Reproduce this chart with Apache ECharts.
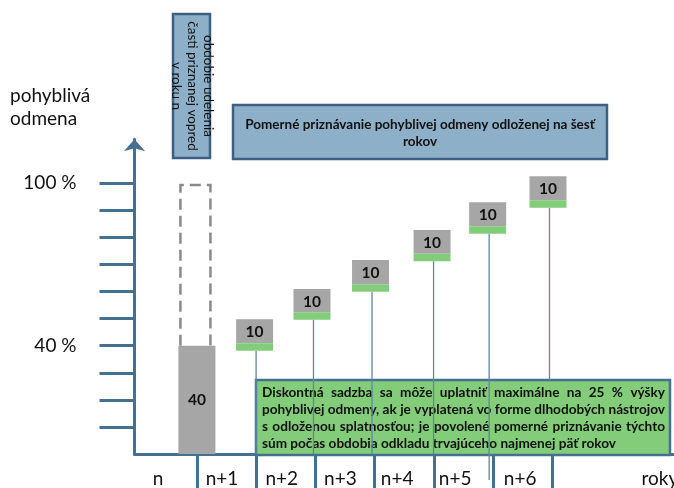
<!DOCTYPE html>
<html>
<head>
<meta charset="utf-8">
<script src="https://cdn.jsdelivr.net/npm/echarts@6/dist/echarts.min.js"></script>
<style>
html, body { margin: 0; padding: 0; background: #fff; }
#chart { width: 674px; height: 488px; }
</style>
</head>
<body>
<div id="chart"></div>
<script>
// values (x in years from start of n, y in %)
const yearLabels = ['n', 'n+1', 'n+2', 'n+3', 'n+4', 'n+5', 'n+6', 'roky'];
const yearLabelPos = [0.34, 1.42, 2.43, 3.42, 4.38, 5.36, 6.46, 8.82];
const yearBounds = [1, 2, 3, 4, 5, 6, 7];
const yTicks = [10, 20, 30, 40, 50, 60, 70, 80, 90, 100];
const yLabels = [40, 100];

const upfrontX = 0.995;
const upfrontValue = 40;
const upfrontOutlineX = 0.97;
const upfrontOutlineTop = 99.3;

const flagX = [1.97, 2.94, 3.93, 4.97, 5.91, 6.93];
const flagLow = [38.1, 49.6, 59.9, 71.2, 81.3, 90.9];
const flagHigh = [49.8, 60.9, 71.6, 82.7, 93.0, 102.6];
const flagValue = [10, 10, 10, 10, 10, 10];
const stemEnd = [0, 0, 0, 0, -9.6, 27.3];

const yTitle = 'pohyblivá\nodmena';
const upfrontNote = 'obdobie udelenia\nčasti priznanej vopred\nv roku n';
const deferNote = 'Pomerné priznávanie pohyblivej odmeny odloženej na šesť\nrokov';
const discountNote = [
  'Diskontná sadzba sa môže uplatniť maximálne na 25 % výšky',
  'pohyblivej odmeny, ak je vyplatená vo forme dlhodobých nástrojov',
  's odloženou splatnosťou; je povolené pomerné priznávanie týchto',
  'súm počas obdobia odkladu trvajúceho najmenej päť rokov'
];

const AXIS = '#46708f';
const BOX_BLUE = '#8db0c8';
const BOX_EDGE = '#3e6080';
const GRAY = '#a6a6a6';
const GREEN = '#82cc7a';
const FONT = 'Lato, "Liberation Sans", sans-serif';

// justified lines for the green note
const ctx = document.createElement('canvas').getContext('2d');
function textWidth(t, font) { ctx.font = font; return ctx.measureText(t).width; }
let noteSize = 12 * 355 / textWidth(discountNote[3], 'bold 12px ' + FONT);
noteSize = Math.round(noteSize * 10) / 10;
const noteFont = 'bold ' + noteSize + 'px ' + FONT;
const noteLeft = 262, noteRight = 665, noteTop = 393, noteStep = 17;
const noteWords = [];
discountNote.forEach((line, i) => {
  const words = line.split(' ');
  const widths = words.map(w => textWidth(w, noteFont));
  const total = widths.reduce((a, b) => a + b, 0);
  const last = i === discountNote.length - 1;
  const gap = last ? textWidth(' ', noteFont) : (noteRight - noteLeft - total) / (words.length - 1);
  let x = noteLeft;
  words.forEach((w, j) => {
    noteWords.push({
      type: 'text', z: 1,
      style: { text: w, x: x, y: noteTop + i * noteStep, font: noteFont, fill: '#111', verticalAlign: 'middle' }
    });
    x += widths[j] + gap;
  });
});

const chart = echarts.init(document.getElementById('chart'), null, { renderer: 'canvas', width: 674, height: 488 });

function renderFlag(params, api) {
  const x = api.value(0);
  const top = api.coord([x, api.value(2)]);
  const bot = api.coord([x, api.value(1)]);
  const end = api.coord([x, api.value(3)]);
  const w = 37, green = 7.5;
  const left = top[0] - w / 2;
  return {
    type: 'group',
    children: [
      { type: 'line', shape: { x1: bot[0] + 1.5, y1: bot[1], x2: bot[0] + 1.5, y2: end[1] },
        style: { stroke: '#5f87a4', lineWidth: 1.3 } },
      { type: 'rect', shape: { x: left, y: top[1], width: w, height: bot[1] - top[1] - green },
        style: { fill: GRAY } },
      { type: 'rect', shape: { x: left, y: bot[1] - green, width: w, height: green },
        style: { fill: GREEN } },
      { type: 'text', style: { text: String(api.value(4)), x: top[0], y: (top[1] + bot[1] - green) / 2 + 1,
        align: 'center', verticalAlign: 'middle', font: 'bold 15.5px ' + FONT, fill: '#111' } }
    ]
  };
}

function renderUpfront(params, api) {
  const x = api.value(0);
  const top = api.coord([x, api.value(2)]);
  const bot = api.coord([x, api.value(1)]);
  const w = 37;
  return {
    type: 'group',
    children: [
      { type: 'rect', shape: { x: top[0] - w / 2, y: top[1], width: w, height: bot[1] - top[1] },
        style: { fill: GRAY } },
      { type: 'text', style: { text: String(api.value(2)), x: top[0], y: (top[1] + bot[1]) / 2,
        align: 'center', verticalAlign: 'middle', font: 'bold 15.5px ' + FONT, fill: '#111' } }
    ]
  };
}

// dashed outline: left, top and right sides only
function renderOutline(params, api) {
  const x = api.value(0);
  const top = api.coord([x, api.value(2)]);
  const bot = api.coord([x, api.value(1)]);
  const w = 30;
  const l = top[0] - w / 2, r = top[0] + w / 2;
  return {
    type: 'polyline',
    shape: { points: [[l, bot[1]], [l, top[1]], [r, top[1]], [r, bot[1]]] },
    style: { fill: null, stroke: '#8a8a8a', lineWidth: 2.5, lineDash: [11, 6] }
  };
}

chart.setOption({
  animation: false,
  backgroundColor: '#fff',
  textStyle: { fontFamily: FONT },
  grid: { left: 134.5, right: 0, top: 139.3, bottom: 34, outerBoundsMode: 'none' },
  xAxis: {
    type: 'value', min: -0.06, max: 9.06,
    splitLine: { show: false },
    axisLine: { show: true, onZero: false, lineStyle: { color: AXIS, width: 3, cap: 'round' } },
    axisTick: { show: true, customValues: yearBounds, length: 34, lineStyle: { color: AXIS, width: 3 } },
    axisLabel: {
      customValues: yearLabelPos, margin: 15, fontSize: 19, color: '#111', fontFamily: FONT,
      formatter: v => yearLabels[yearLabelPos.indexOf(v)]
    }
  },
  yAxis: {
    type: 'value', min: 0, max: 116.2,
    splitLine: { show: false },
    axisLine: { show: true, onZero: false, symbol: ['none', 'arrow'], symbolSize: [16, 12],
      lineStyle: { color: AXIS, width: 3, cap: 'round' } },
    axisTick: { show: true, customValues: yTicks, length: 35, lineStyle: { color: AXIS, width: 3 } },
    axisLabel: {
      customValues: yLabels, margin: 58, fontSize: 19, color: '#111', fontFamily: FONT,
      formatter: v => v + ' %'
    }
  },
  graphic: [
    { type: 'text', left: 10, top: 84,
      style: { text: yTitle, font: '19px ' + FONT, fill: '#111', lineHeight: 23 } },
    { type: 'rect', z: 1, shape: { x: 173, y: 14, width: 37, height: 144 },
      style: { fill: BOX_BLUE, stroke: BOX_EDGE, lineWidth: 2.5 } },
    { type: 'text', z: 2, x: 192, y: 86, rotation: -Math.PI / 2,
      style: { text: upfrontNote, align: 'center', verticalAlign: 'middle', font: '13.5px ' + FONT,
        fill: '#111', lineHeight: 16 } },
    { type: 'rect', z: 1, shape: { x: 233, y: 105, width: 374, height: 54 },
      style: { fill: BOX_BLUE, stroke: BOX_EDGE, lineWidth: 2.5 } },
    { type: 'text', z: 2, x: 420, y: 133,
      style: { text: deferNote, align: 'center', verticalAlign: 'middle', font: 'bold 13.5px ' + FONT,
        fill: '#111', lineHeight: 17 } },
    { type: 'rect', z: 1, shape: { x: 256, y: 380, width: 414, height: 75 },
      style: { fill: GREEN, stroke: AXIS, lineWidth: 2.5 } }
  ].concat(noteWords),
  series: [
    { type: 'custom', z: 3, renderItem: renderOutline,
      data: [[upfrontOutlineX, upfrontValue, upfrontOutlineTop]] },
    { type: 'custom', z: 4, renderItem: renderUpfront,
      data: [[upfrontX, 0, upfrontValue]] },
    { type: 'custom', z: 5, renderItem: renderFlag,
      data: flagX.map((x, i) => [x, flagLow[i], flagHigh[i], stemEnd[i], flagValue[i]]) }
  ]
});
</script>
</body>
</html>
